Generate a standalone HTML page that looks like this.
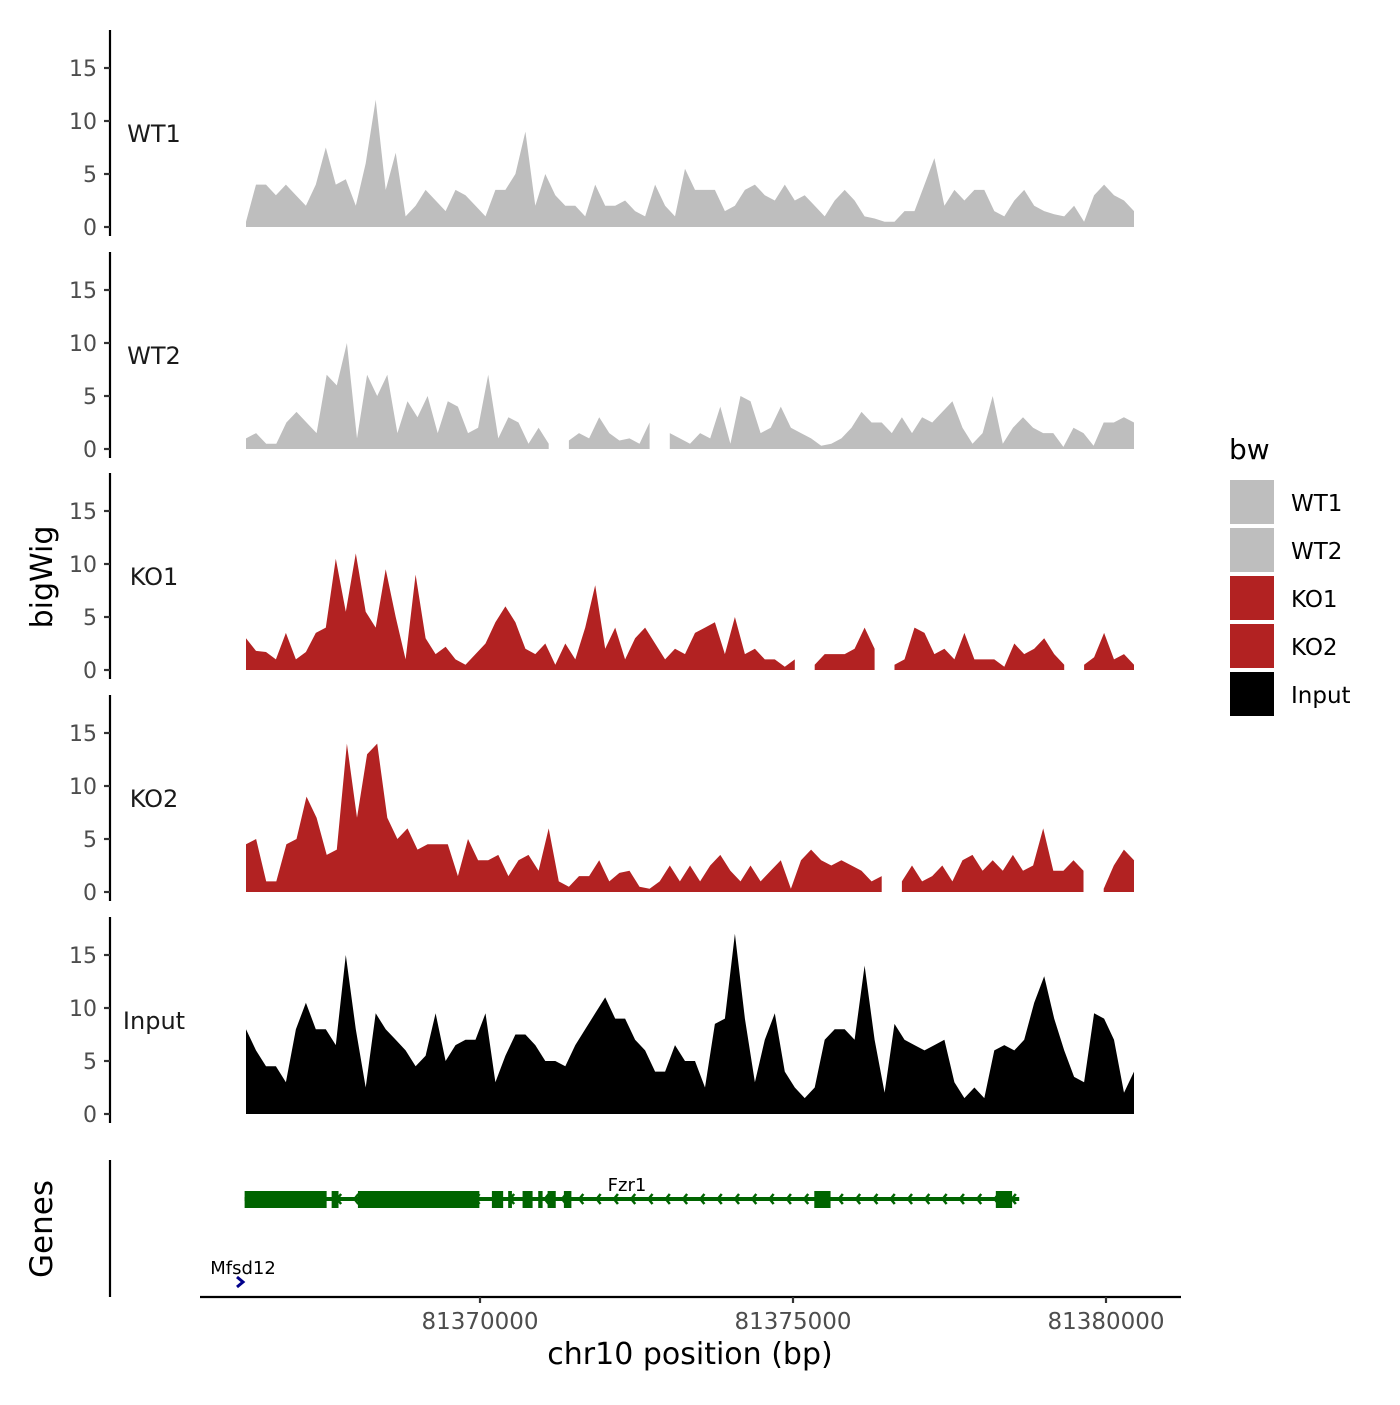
<!DOCTYPE html>
<html><head><meta charset="utf-8"><style>
body{margin:0;background:#fff;}
svg text{font-family:"DejaVu Sans","Liberation Sans",sans-serif;}
</style></head><body>
<svg id="chart" width="1400" height="1400" viewBox="0 0 1400 1400" xmlns="http://www.w3.org/2000/svg">
<rect width="1400" height="1400" fill="#fff"/>
<g id="panels"></g>
<g id="genes"></g>
</svg>
<script>
// data
const samples = ["WT1","WT2","KO1","KO2","Input"];
const sampleColors = ["#bebebe","#bebebe","#b22222","#b22222","#000000"];
const regionStart = 81366262;
const regionEnd = 81380450;
const yTicks = [0,5,10,15];
const xTicks = [81370000,81375000,81380000];
const xTickLabels = ["81370000","81375000","81380000"];
const wt1 = [0.5,4,4,3,4,3,2,4,7.5,4,4.5,2,6,12,3.5,7,1,2,3.5,2.5,1.5,3.5,3,2,1,3.5,3.5,5,9,2,5,3,2,2,1,4,2,2,2.5,1.5,1,4,2,1,5.5,3.5,3.5,3.5,1.5,2,3.5,4,3,2.5,4,2.5,3,2,1,2.5,3.5,2.5,1,0.8,0.5,0.5,1.5,1.5,4,6.5,2,3.5,2.5,3.5,3.5,1.5,1,2.5,3.5,2,1.5,1.2,1,2,0.5,3,4,3,2.5,1.5];
const wt2 = [1,1.5,0.5,0.5,2.5,3.5,2.5,1.5,7,6,10,1,7,5,7,1.5,4.5,3,5,1.5,4.5,4,1.5,2,7,1,3,2.5,0.5,2,0.5,null,0.8,1.5,1,3,1.5,0.8,1,0.5,2.5,null,1.5,1,0.5,1.5,1,4,0.5,5,4.5,1.5,2,4,2,1.5,1,0.3,0.5,1,2,3.5,2.5,2.5,1.5,3,1.5,3,2.5,3.5,4.5,2,0.5,1.5,5,0.5,2,3,2,1.5,1.5,0.2,2,1.5,0.3,2.5,2.5,3,2.5];
const ko1 = [3,1.8,1.7,1,3.5,1,1.7,3.5,4,10.5,5.5,11,5.5,4,9.5,5,1,9,3,1.5,2.2,1,0.5,1.5,2.5,4.5,6,4.5,2,1.5,2.5,0.5,2.5,1,4,8,2,4,1,3,4,2.5,1,2,1.5,3.5,4,4.5,1.5,5,1.5,2,1,1,0.3,1,null,0.5,1.5,1.5,1.5,2,4,2,null,0.5,1,4,3.5,1.5,2,1,3.5,1,1,1,0.3,2.5,1.5,2,3,1.5,0.5,null,0.5,1.2,3.5,1,1.5,0.5];
const ko2 = [4.5,5,1,1,4.5,5,9,7,3.5,4,14,7,13,14,7,5,6,4,4.5,4.5,4.5,1.5,5,3,3,3.5,1.5,3,3.5,2,6,1,0.5,1.5,1.5,3,1,1.8,2,0.5,0.3,1,2.5,1,2.5,1,2.5,3.5,2,1,2.5,1,2,3,0.3,3,4,3,2.5,3,2.5,2,1,1.5,null,1,2.5,1,1.5,2.5,1,3,3.5,2,3,2,3.5,2,2.5,6,2,2,3,2,null,0.3,2.5,4,3];
const input = [8,6,4.5,4.5,3,8,10.5,8,8,6.5,15,8,2.5,9.5,8,7,6,4.5,5.5,9.5,5,6.5,7,7,9.5,3,5.5,7.5,7.5,6.5,5,5,4.5,6.5,8,9.5,11,9,9,7,6,4,4,6.5,5,5,2.5,8.5,9,17,9,3,7,9.5,4,2.5,1.5,2.5,7,8,8,7,14,7,2,8.5,7,6.5,6,6.5,7,3,1.5,2.5,1.5,6,6.5,6,7,10.5,13,9,6,3.5,3,9.5,9,7,2,4];
const seriesList = [wt1,wt2,ko1,ko2,input];
// gene model (bp)
const fzr1Span = [81366240,81378550];
const fzr1Exons = [[81366240,81367550],[81367630,81367740],[81368050,81369990],[81370190,81370370],[81370450,81370510],[81370680,81370840],[81370930,81371000],[81371080,81371210],[81371340,81371460],[81375340,81375600],[81378240,81378500]];

const NS="http://www.w3.org/2000/svg";
function mk(tag,attrs,parent){const e=document.createElementNS(NS,tag);for(const k in attrs)e.setAttribute(k,attrs[k]);parent.appendChild(e);return e;}
const X0=246, X1=1134;
function xScale(bp){return X0+(bp-regionStart)/(regionEnd-regionStart)*(X1-X0);}
const xTickScale = bp => 480+(bp-81370000)*(313/5000);
const panelsG=document.getElementById('panels');
const zeros=[227,449,670,892,1114];
const pxPerUnit=10.6;
samples.forEach((s,p)=>{
  const g=mk('g',{},panelsG);
  
  
  const z=zeros[p];
  const yS=v=>z-v*pxPerUnit;
  const ax=mk('line',{x1:110,x2:110,y1:z-197,y2:z+9,stroke:'#000','stroke-width':2.2},g);
  
  
  yTicks.forEach(t=>{
    mk('line',{x1:104,x2:110,y1:yS(t),y2:yS(t),stroke:'#333','stroke-width':2.2},g);
    const tl=mk('text',{x:97,y:yS(t)+8,'text-anchor':'end','font-size':22,fill:'#4d4d4d'},g);
    tl.textContent=t;
    
    
  });
  const lab=mk('text',{x:154,y:z-85,'text-anchor':'middle','font-size':24,fill:'#1a1a1a'},g);
  lab.textContent=s;
  
  
  const vals=seriesList[p];
  const n=vals.length;
  const step=(regionEnd-regionStart)/(n-1);
  let seg=[];
  const segs=[];
  vals.forEach((v,i)=>{
    if(v===null){if(seg.length)segs.push(seg);seg=[];}
    else seg.push([xScale(regionStart+i*step),yS(v)]);
  });
  if(seg.length)segs.push(seg);
  segs.forEach(sg=>{
    let d='M'+sg[0][0].toFixed(1)+','+z;
    sg.forEach(pt=>{d+=' L'+pt[0].toFixed(1)+','+pt[1].toFixed(1);});
    d+=' L'+sg[sg.length-1][0].toFixed(1)+','+z+' Z';
    const a=mk('path',{d:d,fill:sampleColors[p]},g);
    
    
  });
});
const yt=mk('text',{x:0,y:0,transform:'translate(52,577) rotate(-90)','text-anchor':'middle','font-size':30,fill:'#000'},panelsG);
yt.textContent='bigWig';



const gg=document.getElementById('genes');
const gax=mk('line',{x1:110,x2:110,y1:1160,y2:1297,stroke:'#000','stroke-width':2.2},gg);


const gt=mk('text',{x:0,y:0,transform:'translate(52,1229) rotate(-90)','text-anchor':'middle','font-size':31,fill:'#000'},gg);
gt.textContent='Genes';


const xax=mk('line',{x1:200,x2:1181,y1:1297,y2:1297,stroke:'#000','stroke-width':2.2},gg);


xTicks.forEach((t,i)=>{
  mk('line',{x1:xTickScale(t),x2:xTickScale(t),y1:1297,y2:1303,stroke:'#333','stroke-width':2.2},gg);
  const tl=mk('text',{x:xTickScale(t),y:1329,'text-anchor':'middle','font-size':23,fill:'#4d4d4d'},gg);
  tl.textContent=xTickLabels[i];
  
  
});
const xt=mk('text',{x:690,y:1364,'text-anchor':'middle','font-size':30,fill:'#000'},gg);
xt.textContent='chr10 position (bp)';


const gx=bp=>480+(bp-81370000)*(313/5000);
const fz=mk('g',{},gg);


mk('line',{x1:gx(fzr1Span[0]),x2:gx(fzr1Span[1])+4,y1:1199,y2:1199,stroke:'#006400','stroke-width':4},fz);
for(let x=gx(fzr1Span[0])+6;x<gx(fzr1Span[1]);x+=17.3){
  mk('polyline',{points:(x+4)+',1194 '+x+',1199 '+(x+4)+',1204',fill:'none',stroke:'#006400','stroke-width':2.5},fz);
}
fzr1Exons.forEach(e=>{
  const r=mk('rect',{x:gx(e[0]),y:1191,width:gx(e[1])-gx(e[0]),height:17,fill:'#006400'},fz);
  
  
});
const fl=mk('text',{x:627,y:1191,'text-anchor':'middle','font-size':18,fill:'#000'},fz);
fl.textContent='Fzr1';


const mf=mk('g',{},gg);


mk('polyline',{points:'237,1277 243,1282 237,1287',fill:'none',stroke:'#00008b','stroke-width':3},mf);
const ml=mk('text',{x:243,y:1274,'text-anchor':'middle','font-size':18,fill:'#000'},mf);
ml.textContent='Mfsd12';



const lg=mk('g',{},gg);


const lt=mk('text',{x:1229,y:459,'font-size':28,fill:'#000'},lg);
lt.textContent='bw';


samples.forEach((s,i)=>{
  const y=480+i*48;
  const k=mk('rect',{x:1230,y:y,width:44,height:44,fill:sampleColors[i]},lg);
  
  
  const t=mk('text',{x:1291,y:y+31,'font-size':23,fill:'#000'},lg);
  t.textContent=s;
  
  
});
</script>
</body></html>
